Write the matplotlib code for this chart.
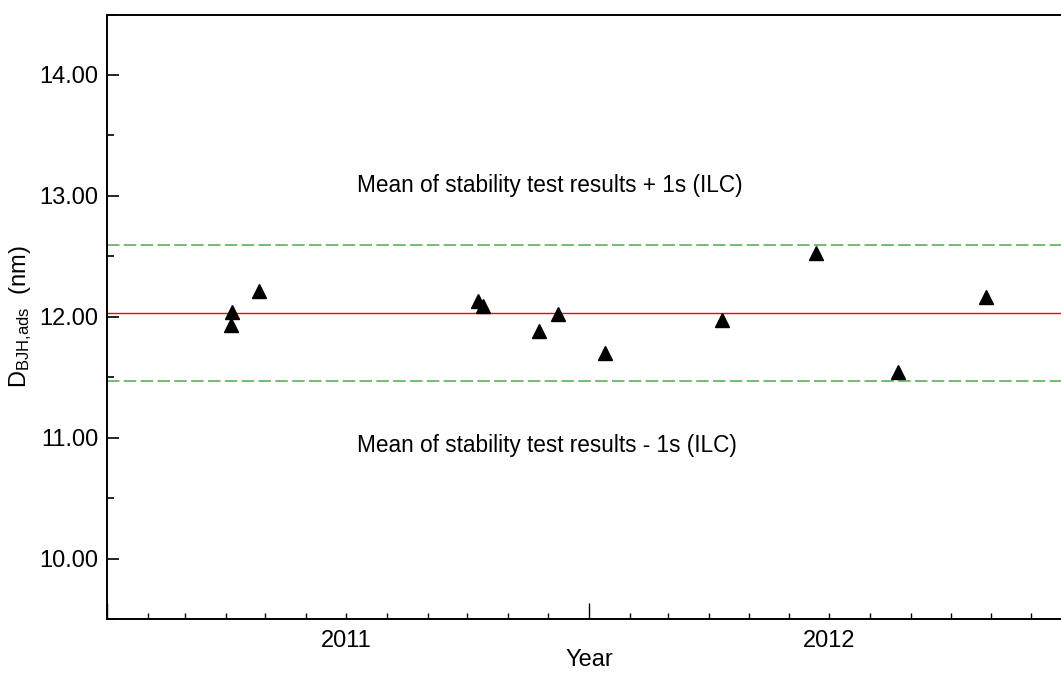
import datetime as dt

import matplotlib
matplotlib.use("Agg")
import matplotlib.pyplot as plt
import matplotlib.dates as mdates
from matplotlib.ticker import MultipleLocator, FormatStrFormatter, FuncFormatter

# stability test results (date of measurement, mean pore diameter in nm)
dates = ["2011-04-05", "2011-04-06", "2011-04-26", "2011-10-09", "2011-10-13",
         "2011-11-24", "2011-12-09", "2012-01-13", "2012-04-11", "2012-06-21",
         "2012-08-22", "2012-10-28"]
d_bjh = [11.93, 12.04, 12.21, 12.13, 12.09,
         11.88, 12.02, 11.70, 11.975, 12.53,
         11.54, 12.16]

mean_value = 12.03
s_ilc = 0.56

upper_label = "Mean of stability test results + 1s (ILC)"
lower_label = "Mean of stability test results - 1s (ILC)"

plt.rcParams["font.family"] = ["Liberation Sans", "DejaVu Sans"]
plt.rcParams["mathtext.default"] = "regular"

x = [dt.datetime.strptime(d, "%Y-%m-%d") for d in dates]

fig = plt.figure(figsize=(10.61, 6.73), dpi=100)
# axes runs to the end of 2012, slightly past the right edge of the figure
ax = fig.add_axes([107 / 1061, 1 - 619 / 673, 965 / 1061, 604.5 / 673])

ax.axhline(mean_value, color="#ff0000", linewidth=1.0, zorder=2)
ax.axhline(mean_value + s_ilc, color="#5cb05c", linewidth=1.2,
           dashes=(7.5, 2.6), zorder=2)
ax.axhline(mean_value - s_ilc, color="#5cb05c", linewidth=1.2,
           dashes=(7.5, 2.6), zorder=2)

ax.plot(x, d_bjh, linestyle="none", marker="^", markersize=9.5,
        color="black", zorder=3)

ax.text(dt.datetime(2011, 7, 9), mean_value + 1.0, upper_label,
        fontsize=16.3, ha="left", va="baseline")
ax.text(dt.datetime(2011, 7, 9), mean_value - 1.146, lower_label,
        fontsize=16.3, ha="left", va="baseline")

ax.set_xlim(dt.datetime(2011, 1, 1), dt.datetime(2013, 1, 1))
ax.set_ylim(9.5, 14.5)

ax.xaxis.set_major_locator(mdates.YearLocator())
ax.xaxis.set_major_formatter(FuncFormatter(lambda v, p: ""))
ax.xaxis.set_minor_locator(mdates.MonthLocator())


def year_label(v, pos):
    d = mdates.num2date(v)
    return str(d.year) if d.month == 7 else ""


ax.xaxis.set_minor_formatter(FuncFormatter(year_label))

ax.yaxis.set_major_locator(MultipleLocator(1.0))
ax.yaxis.set_minor_locator(MultipleLocator(0.5))
ax.yaxis.set_major_formatter(FormatStrFormatter("%.2f"))

ax.tick_params(axis="x", which="major", direction="in", length=11.5,
               width=1.0, labelsize=17)
ax.tick_params(axis="x", which="minor", direction="in", length=4.3,
               width=1.0, labelsize=17, pad=8)
ax.tick_params(axis="y", which="major", direction="in", length=8.6,
               width=1.2, labelsize=17, pad=6)
ax.tick_params(axis="y", which="minor", direction="in", length=5,
               width=1.2)

for side in ["left", "top", "bottom"]:
    ax.spines[side].set_linewidth(1.4)
ax.spines["right"].set_visible(False)

ax.set_xlabel("Year", fontsize=17, labelpad=-2)
ax.set_ylabel(r"D$_{BJH{,}ads}$  (nm)", fontsize=17, labelpad=4)

fig.savefig("out.png", dpi=100)
plt.close(fig)
